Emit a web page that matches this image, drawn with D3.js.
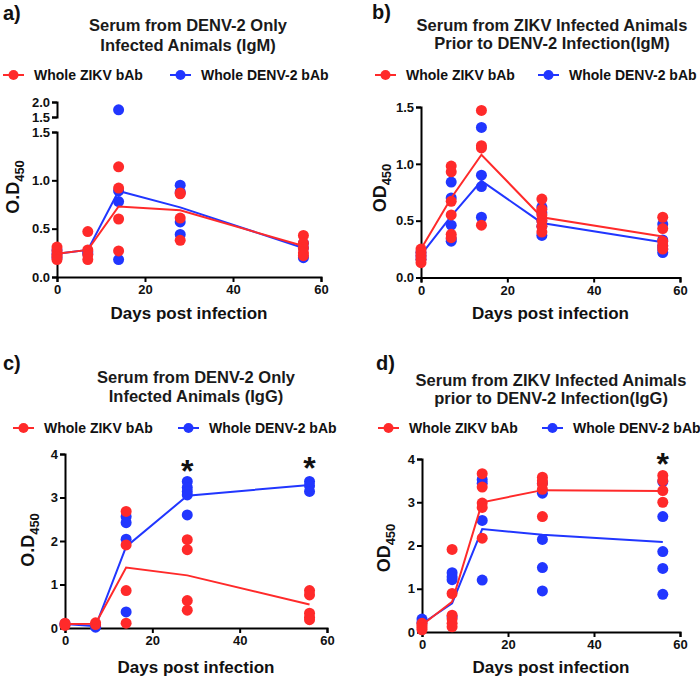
<!DOCTYPE html>
<html><head><meta charset="utf-8">
<script src="https://cdn.jsdelivr.net/npm/d3@7"></script>
<style>body{margin:0;background:#fff} text{font-family:"Liberation Sans",Arial,sans-serif}</style>
</head><body><svg id="c" width="700" height="677"></svg>
<script>
// ---------- data ----------
const days = [0, 7, 14, 28, 56];
const xTicks = [0, 20, 40, 60];
const seriesNames = ["Whole ZIKV bAb", "Whole DENV-2 bAb"];

// a) DENV-2 only, IgM
const aZikv = [[0.31,0.27,0.23,0.21,0.18],[0.47,0.28,0.23,0.18],[1.14,0.92,0.60,0.27],[0.87,0.86,0.61,0.38],[0.43,0.35,0.30,0.25,0.22]];
const aDenv = [[0.28,0.24,0.20],[0.26,0.24],[1.74,0.89,0.78,0.18],[0.95,0.88,0.57,0.44],[0.35,0.30,0.20]];
const aZikvMean = [0.24,0.28,0.73,0.69,0.32];
const aDenvMean = [0.24,0.28,0.89,0.72,0.30];
const aYTicks = [0, 0.5, 1.0, 1.5];
const aYTicksUpper = [1.5, 2.0];

// b) ZIKV prior to DENV-2, IgM
const bZikv = [[0.25,0.22,0.19,0.16,0.13],[0.98,0.93,0.67,0.55,0.38,0.35],[1.47,1.16,1.14,0.46],[0.69,0.60,0.55,0.50,0.45,0.40],[0.53,0.43,0.32,0.28,0.25]];
const bDenv = [[0.22,0.19,0.16],[0.84,0.70,0.46,0.34,0.32],[1.32,0.90,0.80,0.53],[0.62,0.57,0.50,0.45,0.37],[0.47,0.33,0.28,0.25,0.22]];
const bZikvMean = [0.25,0.70,1.08,0.53,0.36];
const bDenvMean = [0.20,0.54,0.85,0.48,0.31];
const bYTicks = [0, 0.5, 1.0, 1.5];

// c) DENV-2 only, IgG
const cZikv = [[0.11,0.06],[0.12,0.08],[2.68,1.91,0.86,0.11],[2.03,1.80,0.63,0.41],[0.86,0.76,0.34,0.25,0.19]];
const cDenv = [[0.10,0.08],[0.04,0.02],[2.56,2.42,2.04,0.37],[3.37,3.23,3.14,3.06,2.60],[3.37,3.27,3.14]];
const cZikvMean = [0.09,0.10,1.39,1.21,0.54];
const cDenvMean = [0.09,0.04,1.87,3.04,3.29];
const cYTicks = [0, 1, 2, 3, 4];
const cStars = [[28, 3.74], [56, 3.81]];

// d) ZIKV prior to DENV-2, IgG
const dZikv = [[0.20,0.15,0.10,0.05],[1.91,0.89,0.39,0.30,0.20,0.12],[3.66,3.35,2.98,2.88,2.17],[3.58,3.50,3.42,3.30,2.67],[3.62,3.50,3.27,3.00]];
const dDenv = [[0.30,0.22],[1.37,1.28,1.21,0.35],[3.52,3.44,2.58,1.20],[3.44,3.21,2.14,1.49,0.95],[3.48,2.67,1.86,1.47,0.87]];
const dZikvMean = [0.16,0.70,3.00,3.28,3.26];
const dDenvMean = [0.19,0.66,2.38,2.25,2.08];
const dYTicks = [0, 1, 2, 3, 4];
const dStars = [[56, 4.02]];

// ---------- drawing ----------
const RED = "#ff2a2a", BLUE = "#2136ff";
const svg = d3.select("#c");

function styleAxis(sel) {
  sel.select(".domain").attr("stroke", "#000").attr("stroke-width", 2);
  sel.selectAll(".tick line").attr("stroke", "#000").attr("stroke-width", 2);
  sel.selectAll(".tick text").attr("fill", "#111").style("font-size", "13px").style("font-weight", "bold");
}

function drawPanel(cfg, zikv, denv, zMean, dMean, yTicks, fmt, upperTicks, stars) {
  const g = svg.append("g");
  const x = d3.scaleLinear().domain([0, 60]).range([cfg.x0, cfg.x1]);
  const y = d3.scaleLinear().domain([0, yTicks[yTicks.length - 1]]).range([cfg.yBase, cfg.yTop]);
  let yU = null;
  if (upperTicks) yU = d3.scaleLinear().domain([upperTicks[0], upperTicks[upperTicks.length - 1]]).range(cfg.upperRange);
  const yMax = yTicks[yTicks.length - 1];
  const Y = v => (yU && v > yMax) ? yU(v) : y(v);

  // letter
  g.append("text").attr("x", cfg.letter[0]).attr("y", cfg.letter[1]).text(cfg.letter[2])
    .style("font-size", "20px").style("font-weight", "bold").attr("fill", "#111");
  // title
  cfg.title.forEach((t, i) => {
    g.append("text").attr("x", cfg.titleX).attr("y", cfg.titleY[i]).attr("text-anchor", "middle")
      .text(t).style("font-size", "16.5px").style("font-weight", "bold").attr("fill", "#1a1a1a");
  });
  // legend
  [[RED, cfg.leg[0]], [BLUE, cfg.leg[1]]].forEach(([col, lx], i) => {
    g.append("line").attr("x1", lx).attr("x2", lx + 21).attr("y1", cfg.legY).attr("y2", cfg.legY)
      .attr("stroke", col).attr("stroke-width", 2);
    g.append("circle").attr("cx", lx + 10.5).attr("cy", cfg.legY).attr("r", 5).attr("fill", col);
    g.append("text").attr("x", lx + 31).attr("y", cfg.legY + 5).text(seriesNames[i])
      .style("font-size", "14px").style("font-weight", "bold").attr("fill", "#111");
  });

  // axes
  const xa = g.append("g").attr("transform", `translate(0,${cfg.yBase})`)
    .call(d3.axisBottom(x).tickValues(xTicks).tickSize(5).tickPadding(3).tickFormat(d3.format("d")));
  styleAxis(xa);
  const ya = g.append("g").attr("transform", `translate(${cfg.x0},0)`)
    .call(d3.axisLeft(y).tickValues(yTicks).tickSize(5).tickPadding(2).tickFormat(d3.format(fmt)));
  styleAxis(ya);
  if (yU) {
    const yb = g.append("g").attr("transform", `translate(${cfg.x0},0)`)
      .call(d3.axisLeft(yU).tickValues(upperTicks).tickSize(5).tickPadding(2).tickFormat(d3.format(fmt)));
    styleAxis(yb);
  }

  // axis titles
  g.append("text").attr("x", (cfg.x0 + cfg.x1) / 2).attr("y", cfg.xLabelY).attr("text-anchor", "middle")
    .text("Days post infection").style("font-size", "17px").style("font-weight", "bold").attr("fill", "#111");
  const yl = g.append("text").attr("transform", `translate(${cfg.yLab[0]},${cfg.yLab[1]}) rotate(-90)`)
    .attr("text-anchor", "middle").style("font-size", "18px").style("font-weight", "bold").attr("fill", "#111");
  yl.append("tspan").text(cfg.yLab[2]);
  yl.append("tspan").attr("dy", 5).style("font-size", "13px").text("450");

  // series: blue first, red on top
  const line = d3.line().x((d, i) => x(days[i])).y(d => Y(d));
  [[denv, dMean, BLUE], [zikv, zMean, RED]].forEach(([pts, mean, col]) => {
    pts.forEach((arr, i) => {
      g.selectAll(null).data(arr).enter().append("circle")
        .attr("cx", x(days[i])).attr("cy", d => Y(d)).attr("r", 5.5).attr("fill", col);
    });
    g.append("path").datum(mean).attr("d", line).attr("fill", "none").attr("stroke", col).attr("stroke-width", 2);
  });

  // significance stars
  (stars || []).forEach(([dd, v]) => {
    g.append("text").attr("x", x(dd)).attr("y", Y(v) + 17).attr("text-anchor", "middle")
      .text("*").style("font-size", "32px").style("font-weight", "bold").attr("fill", "#111");
  });
}

drawPanel({x0: 57, x1: 321, yBase: 277, yTop: 132, upperRange: [117, 102],
  letter: [3, 20, "a)"], title: ["Serum from DENV-2 Only", "Infected Animals (IgM)"], titleX: 188, titleY: [31, 51],
  leg: [3, 170], legY: 75, xLabelY: 319, yLab: [19, 187, "O.D"]},
  aZikv, aDenv, aZikvMean, aDenvMean, aYTicks, ".1f", aYTicksUpper, null);

drawPanel({x0: 421, x1: 680, yBase: 277.5, yTop: 107,
  letter: [372, 19, "b)"], title: ["Serum from ZIKV Infected Animals", "Prior to DENV-2 Infection(IgM)"], titleX: 552, titleY: [31, 49],
  leg: [375, 538], legY: 75, xLabelY: 319, yLab: [386, 188, "OD"]},
  bZikv, bDenv, bZikvMean, bDenvMean, bYTicks, ".1f", null, null);

drawPanel({x0: 65, x1: 327, yBase: 628, yTop: 454,
  letter: [3, 370, "c)"], title: ["Serum from DENV-2 Only", "Infected Animals (IgG)"], titleX: 196, titleY: [383, 402],
  leg: [13, 178], legY: 428, xLabelY: 673, yLab: [34, 540, "O.D"]},
  cZikv, cDenv, cZikvMean, cDenvMean, cYTicks, "d", null, cStars);

drawPanel({x0: 422, x1: 680, yBase: 632, yTop: 459,
  letter: [376, 370, "d)"], title: ["Serum from ZIKV Infected Animals", "prior to DENV-2 Infection(IgG)"], titleX: 551, titleY: [386, 404],
  leg: [378, 542], legY: 428, xLabelY: 673, yLab: [390, 548, "OD"]},
  dZikv, dDenv, dZikvMean, dDenvMean, dYTicks, "d", null, dStars);
</script></body></html>
